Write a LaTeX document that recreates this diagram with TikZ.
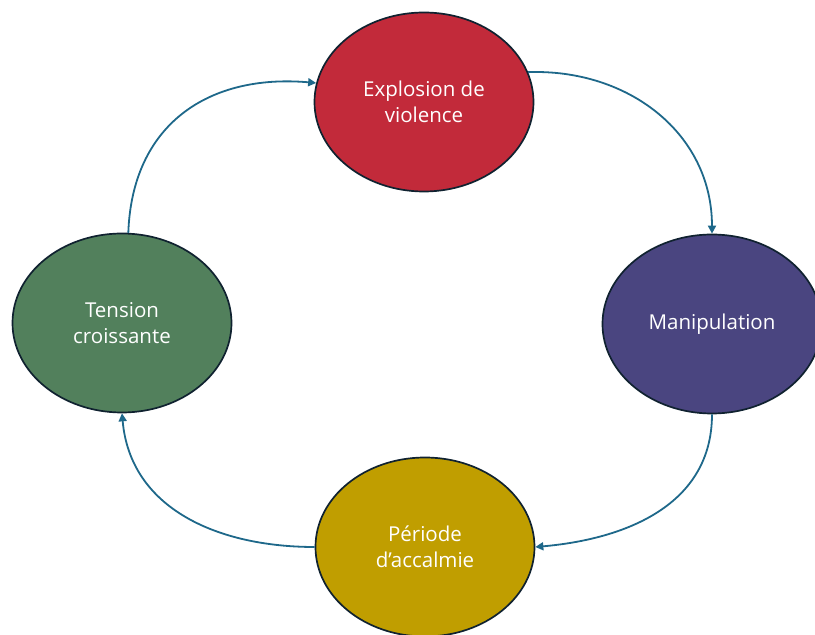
\documentclass[tikz,border=0pt]{standalone}
\usepackage{fontspec}
\setmainfont{Open Sans}
\definecolor{outlineColour}{RGB}{16, 34, 48}
\definecolor{arrowColour}{RGB}{30, 104, 138}
\definecolor{explosionColour}{RGB}{194, 42, 58}
\definecolor{manipColour}{RGB}{74, 69, 128}
\definecolor{accalmieColour}{RGB}{192, 158, 0}
\definecolor{tensionColour}{RGB}{82, 128, 92}
\usetikzlibrary{
    arrows.meta,
    shapes.geometric
}
\tikzset{
    phase/.style={
        ellipse,
        draw=outlineColour,
        line width=1.7pt,
        minimum width=219pt,
        minimum height=179pt,
        inner sep=0pt,
        text=white,
        align=center,
        font=\fontsize{20.5}{26}\selectfont,
    },
    cycle/.style={
        -{Triangle[length=8pt, width=8pt]}
    },
}
\begin{document}
\begin{tikzpicture}[x=1pt, y=1pt]
    \clip (0, 0) rectangle (815, 635);
    \begin{scope}
        \node[phase, fill=explosionColour] (ph_explosion) at (424, 533) {Explosion de\\violence};
        \node[phase, fill=manipColour] (ph_manip) at (712, 311) {Manipulation};
        \node[phase, fill=accalmieColour] (ph_accalmie) at (425, 88) {Période\\d’accalmie};
        \node[phase, fill=tensionColour] (ph_tension) at (122, 312) {Tension\\croissante};
    \end{scope}

    \begin{scope} [every edge/.style={draw=arrowColour, line width=1.8pt}]
        \path [cycle] (ph_explosion.16) edge[out=2, in=90, looseness=1.05] (ph_manip.north);
        \path [cycle] (ph_manip.south) edge[out=-90, in=5, looseness=1.05] (ph_accalmie.east);
        \path [cycle] (ph_accalmie.west) edge[out=180, in=-85, looseness=1.05] (ph_tension.south);
        \path [cycle] (ph_tension.86) edge[out=88, in=175, looseness=1.15] (ph_explosion.170);
    \end{scope}
\end{tikzpicture}
\end{document}
